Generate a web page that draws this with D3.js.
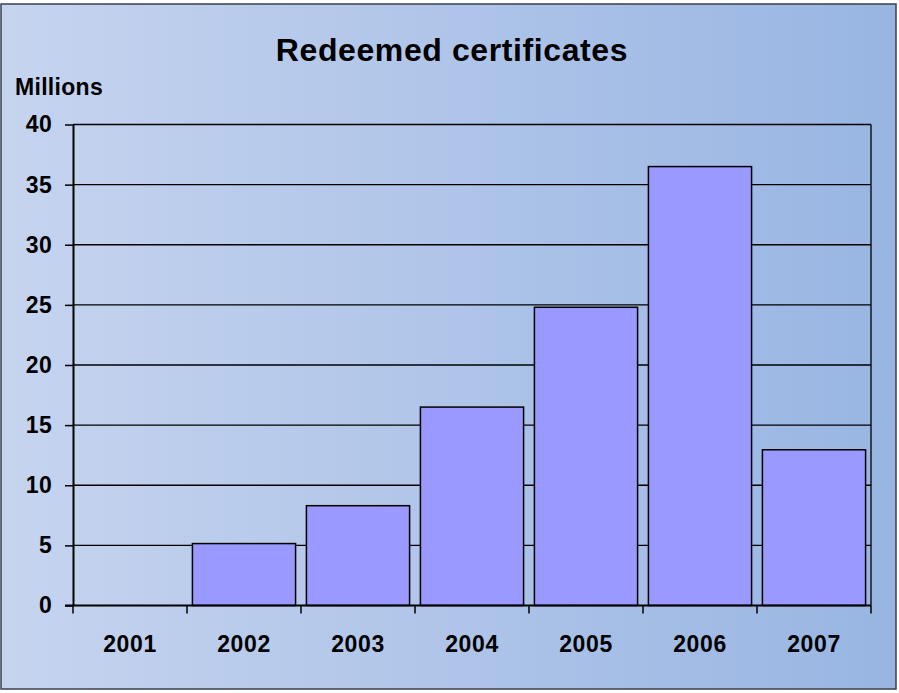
<!DOCTYPE html>
<html><head><meta charset="utf-8">
<script src="https://cdn.jsdelivr.net/npm/d3@7"></script>
<style>html,body{margin:0;padding:0;background:#fff;}svg{display:block;}</style>
</head><body>
<script>
const categories = ["2001","2002","2003","2004","2005","2006","2007"];
const values = [0, 5.15, 8.3, 16.5, 24.8, 36.5, 12.95];
const yTicks = [0,5,10,15,20,25,30,35,40];
const title = "Redeemed certificates";
const unitLabel = "Millions";

const W = 899, H = 693;
const svg = d3.select("body").append("svg").attr("width", W).attr("height", H);
const defs = svg.append("defs");
const grad = defs.append("linearGradient").attr("id","bg").attr("x1","0").attr("x2","1").attr("y1","0").attr("y2","0");
grad.append("stop").attr("offset","0").attr("stop-color","#c6d4ef");
grad.append("stop").attr("offset","1").attr("stop-color","#98b5e2");

svg.append("rect").attr("x",1).attr("y",4).attr("width",895).attr("height",685)
  .attr("fill","url(#bg)").attr("stroke","#3a3f50").attr("stroke-width",1.5);

const L = 73, R = 871, T = 124.5, B = 605.5;
const x = d3.scaleBand().domain(categories).range([L,R]).paddingInner(0.095).paddingOuter(0.0475);
const xb = d3.scaleBand().domain(categories).range([L,R]);
const y = d3.scaleLinear().domain([0,40]).range([B,T]);

const font = "'Liberation Sans', Arial, sans-serif";

// gridlines
svg.append("g").selectAll("line").data(yTicks.filter(d=>d>0)).join("line")
  .attr("x1",L).attr("x2",R).attr("y1",d=>y(d)).attr("y2",d=>y(d))
  .attr("stroke","#000").attr("stroke-width",1.3);
// plot border right
svg.append("line").attr("x1",R).attr("x2",R).attr("y1",T).attr("y2",B).attr("stroke","#000").attr("stroke-width",1.3);

// bars
svg.append("g").selectAll("rect").data(categories.map((c,i)=>({c,v:values[i]})).filter(d=>d.v>0)).join("rect")
  .attr("x",d=>x(d.c)).attr("width",x.bandwidth())
  .attr("y",d=>y(d.v)).attr("height",d=>B-y(d.v))
  .attr("fill","#9999ff").attr("stroke","#000").attr("stroke-width",1.5);

// y axis
const yAxis = d3.axisLeft(y).tickValues(yTicks).tickSize(8).tickPadding(13).tickSizeOuter(0);
const gy = svg.append("g").attr("transform",`translate(${L},0)`).call(yAxis);
gy.select(".domain").attr("stroke","#000").attr("stroke-width",2);
gy.selectAll(".tick line").attr("stroke","#000").attr("stroke-width",1.5);
gy.selectAll(".tick text").attr("font-family",font).attr("font-weight","bold").attr("font-size","23px").attr("letter-spacing","0.3px").attr("fill","#000");

// x axis
const gx = svg.append("g").attr("transform",`translate(0,${B})`);
gx.append("line").attr("x1",L-8).attr("x2",R).attr("y1",0).attr("y2",0).attr("stroke","#000").attr("stroke-width",2);
const tickPos = categories.map(c=>xb(c)).concat([R]);
gx.selectAll("line.t").data(tickPos).join("line").attr("class","t")
  .attr("x1",d=>d).attr("x2",d=>d).attr("y1",0).attr("y2",8).attr("stroke","#000").attr("stroke-width",1.5);
gx.selectAll("text").data(categories).join("text")
  .attr("x",d=>xb(d)+xb.bandwidth()/2).attr("y",46.5)
  .attr("text-anchor","middle").attr("font-family",font).attr("font-weight","bold").attr("font-size","23px").attr("letter-spacing","0.6px").text(d=>d);

svg.append("text").attr("x",452).attr("y",61).attr("text-anchor","middle")
  .attr("font-family",font).attr("font-weight","bold").attr("font-size","32px").attr("letter-spacing","0.6px").text(title);
svg.append("text").attr("x",15).attr("y",95)
  .attr("font-family",font).attr("font-weight","bold").attr("font-size","23px").attr("letter-spacing","0.3px").text(unitLabel);
</script>
</body></html>
